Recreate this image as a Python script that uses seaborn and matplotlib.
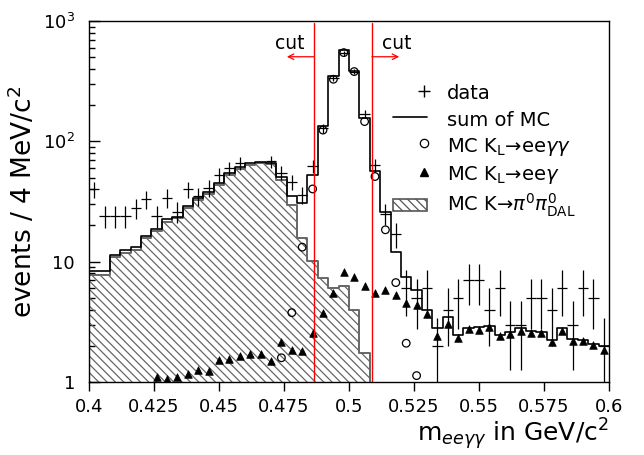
import numpy as np
import pandas as pd
import matplotlib
matplotlib.use("Agg")
import matplotlib.pyplot as plt
import seaborn as sns
from matplotlib.lines import Line2D
from matplotlib.patches import Patch, Rectangle
from matplotlib.legend_handler import HandlerLine2D, HandlerPatch
from matplotlib.ticker import FixedLocator, FixedFormatter, NullFormatter

# ---------------- data ----------------
x_min, x_max, bin_width = 0.4, 0.6, 0.004

# data counts per 4 MeV bin (NaN = not visible)
data_counts = [40, 24, 24, 24, 28, 33, 24, 34, 26, 40,
               35, 41, 53, 60, 66, np.nan, np.nan, 68, 55, 46,
               36, 62, 128, 335, 540, 380, 169, 64, 25, 17,
               6, 5, 6, 2, 4, 5, 7, 7, 4, 6,
               3, 3, 5, 5, 4, 6, 3, 6, 5, 2]

# sum of MC
sum_mc = [8.3, 8.3, 11.4, 12.5, 13.3, 16.2, 18.7, 22.5, 23.7, 29.0,
          34.0, 37.8, 45.0, 55.0, 60.7, 65.8, 67.8, 66.5, 50.2, 35.0,
          30.5, 53.0, 134, 350, 575, 387, 156, 56.8, 26.0, 12.1,
          7.5, 5.8, 4.0, 2.8, 3.45, 2.46, 2.8, 2.88, 2.92, 2.46,
          2.62, 2.79, 2.65, 2.62, 2.23, 2.79, 2.26, 2.23, 2.07, 2.0]

# MC K -> pi0 pi0 Dalitz (hatched), bins 0..26
pipi_dal = [7.75, 7.75, 10.9, 11.75, 12.5, 15.6, 18.0, 21.5, 22.9, 27.8,
            32.5, 36.6, 43.3, 53.0, 58.6, 63.7, 65.8, 64.9, 47.6, 29.6,
            15.6, 10.2, 7.27, 6.0, 6.27, 3.97, 1.73]

# MC KL -> ee gamma gamma (open circles), bins 18..31
eegg_first_bin = 18
eegg = [1.59, 3.77, 13.2, 40.2, 124, 328, 546, 380, 146, 51, 18.4, 6.7, 2.1, 1.13]

# MC KL -> ee gamma (filled triangles), bins 6..49
eeg_first_bin = 6
eeg = [1.10, 1.05, 1.09, 1.17, 1.27, 1.24, 1.52, 1.54, 1.64, 1.71,
       1.71, 1.49, 2.16, 1.85, 1.81, 2.57, 3.72, 5.46, 8.26, 7.40,
       6.28, 5.52, 5.82, 5.29, 4.56, 4.34, 3.65, 2.43, 3.03, 2.31,
       2.76, 2.70, 2.87, 2.41, 2.50, 2.67, 2.57, 2.54, 2.14, 2.65,
       2.20, 2.18, 2.02, 1.83]

cut_values = [0.4866, 0.5088]
x_ticks = [0.4, 0.425, 0.45, 0.475, 0.5, 0.525, 0.55, 0.575, 0.6]
x_tick_labels = ["0.4", "0.425", "0.45", "0.475", "0.5", "0.525", "0.55", "0.575", "0.6"]
y_ticks = [1, 10, 100, 1000]
y_tick_labels = ["1", "10", "$10^{2}$", "$10^{3}$"]

# ---------------- derived bin geometry ----------------
n_bins = len(sum_mc)
edges = [x_min + bin_width * i for i in range(n_bins + 1)]
centers = [edges[i] + bin_width / 2 for i in range(n_bins)]

# ---------------- styling ----------------
sns.set_style("ticks")
plt.rcParams["font.family"] = ["DejaVu Sans"]
plt.rcParams["mathtext.fontset"] = "dejavusans"
plt.rcParams["hatch.linewidth"] = 0.9
plt.rcParams["hatch.color"] = "#555555"
for key in ["text.color", "axes.labelcolor", "xtick.color", "ytick.color", "axes.edgecolor"]:
    plt.rcParams[key] = "black"

fig = plt.figure(figsize=(6.44, 4.55), dpi=100)
ax = fig.add_axes([89 / 644, 1 - 382 / 455, 520 / 644, 361 / 455])
ax.set_yscale("log")

HATCH = "\\\\\\\\"

# hatched pi0pi0 Dalitz histogram
n_dal = len(pipi_dal)
df_dal = pd.DataFrame({"x": centers[:n_dal], "w": pipi_dal})
n_coll = len(ax.collections)
sns.histplot(data=df_dal, x="x", weights="w", bins=edges[:n_dal + 1],
             element="step", fill=True, ax=ax, color="#666666", linewidth=1.4)
for coll in ax.collections[n_coll:]:
    coll.set_facecolor("none")
    coll.set_edgecolor("#666666")
    coll.set_hatch(HATCH)
    coll.set_linewidth(1.4)

# sum of MC
df_sum = pd.DataFrame({"x": centers, "w": sum_mc})
sns.histplot(data=df_sum, x="x", weights="w", bins=edges,
             element="step", fill=False, ax=ax, color="black", linewidth=1.2)

# MC KL -> ee gamma gamma
df_eegg = pd.DataFrame({"x": centers[eegg_first_bin:eegg_first_bin + len(eegg)], "y": eegg})
sns.scatterplot(data=df_eegg, x="x", y="y", ax=ax, marker="o", s=30,
                facecolor="none", edgecolor="black", linewidth=0.9, zorder=5)

# MC KL -> ee gamma
df_eeg = pd.DataFrame({"x": centers[eeg_first_bin:eeg_first_bin + len(eeg)], "y": eeg})
sns.scatterplot(data=df_eeg, x="x", y="y", ax=ax, marker="^", s=30,
                color="black", edgecolor="black", linewidth=0.5, zorder=5)

# data crosses
counts = np.array(data_counts, dtype=float)
err = np.sqrt(counts)
lower = np.minimum(err, counts - 1e-3)
ax.errorbar(centers, counts, xerr=bin_width / 2, yerr=[lower, err],
            fmt="none", ecolor="black", elinewidth=0.9, capsize=0, zorder=6)

# cuts
for cv, direction in zip(cut_values, [-1, 1]):
    ax.axvline(cv, ymin=0, ymax=0.995, color="red", linewidth=1.0, zorder=7)
    ax.annotate("", xy=(cv + direction * 0.0105, 0.901), xycoords=("data", "axes fraction"),
                xytext=(cv, 0.901), textcoords=("data", "axes fraction"),
                arrowprops=dict(arrowstyle="->", color="red", lw=0.9,
                                shrinkA=0, shrinkB=0, mutation_scale=10))
    ax.text(cv + direction * 0.0095, 0.937, "cut", transform=ax.get_xaxis_transform(),
            ha="center", va="center", fontsize=13.5)

# axes
ax.set_xlim(x_min, x_max)
ax.set_ylim(1, 1000)
ax.xaxis.set_major_locator(FixedLocator(x_ticks))
ax.xaxis.set_major_formatter(FixedFormatter(x_tick_labels))
ax.yaxis.set_major_locator(FixedLocator(y_ticks))
ax.yaxis.set_major_formatter(FixedFormatter(y_tick_labels))
minor = [m * 10 ** e for e in range(0, 3) for m in range(2, 10)]
ax.yaxis.set_minor_locator(FixedLocator(minor))
ax.yaxis.set_minor_formatter(NullFormatter())
ax.xaxis.set_minor_locator(FixedLocator([]))
ax.tick_params(axis="x", which="major", direction="out", length=6.5, width=1,
               labelsize=13, pad=5)
ax.tick_params(axis="y", which="major", direction="in", length=8, width=1,
               labelsize=13, pad=10)
ax.tick_params(axis="y", which="minor", direction="in", length=4.5, width=1)
for sp in ax.spines.values():
    sp.set_linewidth(1.0)
    sp.set_color("black")
    sp.set_visible(True)

ax.set_xlabel("m$_{ee\\gamma\\gamma}$ in GeV/c$^{2}$", fontsize=18, loc="right", labelpad=0)
ax.set_ylabel("events / 4 MeV/c$^{2}$", fontsize=19, labelpad=4)


class RightMarkerHandler(HandlerLine2D):
    """Legend handler that puts a single marker at the right end of the handle box."""
    def get_xdata(self, legend, xdescent, ydescent, width, height, fontsize):
        xd = np.array([-xdescent + width * 0.9])
        return xd, xd


def small_box(legend, orig_handle, xdescent, ydescent, width, height, fontsize):
    return Rectangle((-xdescent, -ydescent + height * 0.2), width, height * 0.55)


# legend
handles = [
    Line2D([], [], marker="+", markersize=9, markeredgewidth=1, linestyle="none", color="black"),
    Line2D([], [], color="black", linewidth=1.2),
    Line2D([], [], marker="o", markerfacecolor="none", markeredgecolor="black",
           markersize=6, markeredgewidth=0.9, linestyle="none"),
    Line2D([], [], marker="^", markersize=6, linestyle="none", color="black"),
    Patch(facecolor="none", edgecolor="#555555", hatch=HATCH, linewidth=1.2),
]
labels = [
    "data",
    "sum of MC",
    "MC K$_{\\mathregular{L}}$\u2192ee$\\gamma\\gamma$",
    "MC K$_{\\mathregular{L}}$\u2192ee$\\gamma$",
    "MC K\u2192$\\pi^{0}\\pi^{0}_{\\mathregular{DAL}}$",
]
hmap = {handles[0]: RightMarkerHandler(), handles[2]: RightMarkerHandler(),
        handles[3]: RightMarkerHandler(), handles[4]: HandlerPatch(patch_func=small_box)}
leg = ax.legend(handles, labels, loc="upper left", bbox_to_anchor=(0.585, 0.83),
                frameon=False, fontsize=14, handlelength=1.75, handleheight=1.3,
                handletextpad=1.0, labelspacing=0.26, borderaxespad=0, borderpad=0,
                handler_map=hmap)

fig.savefig("out.png", dpi=100)
